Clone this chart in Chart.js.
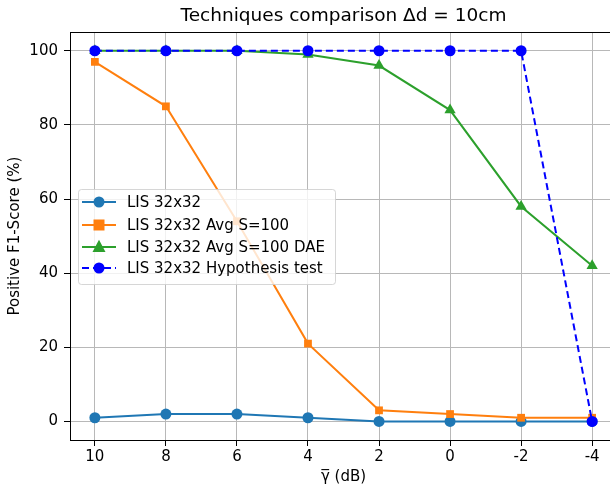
<!DOCTYPE html>
<html><head><meta charset="utf-8">
<script src="https://cdn.jsdelivr.net/npm/chart.js@4/dist/chart.umd.min.js"></script>
<style>html,body{margin:0;padding:0;overflow:hidden;background:#fff;width:610px;height:489px}
#wrap{position:absolute;left:0;top:0;width:640px;height:489px}</style>
</head><body><div id="wrap"><canvas id="c" width="640" height="489"></canvas></div>
<script>
const gammaDb = [10, 8, 6, 4, 2, 0, -2, -4];
const lis = [1, 2, 2, 1, 0, 0, 0, 0];
const lisAvg = [97, 85, 54, 21, 3, 2, 1, 1];
const lisAvgDae = [100, 100, 100, 99, 96, 84, 58, 42];
const lisHyp = [100, 100, 100, 100, 100, 100, 100, 0];
const xTicks = [10, 8, 6, 4, 2, 0, -2, -4];
const yTicks = [0, 20, 40, 60, 80, 100];
const seriesNames = ['LIS 32x32', 'LIS 32x32 Avg S=100', 'LIS 32x32 Avg S=100 DAE', 'LIS 32x32 Hypothesis test'];

const pts = arr => gammaDb.map((x, i) => ({x: x, y: arr[i]}));
const FONT = 'DejaVu Sans';

const frame = {
  id: 'frame',
  afterDatasetsDraw(chart) {
    const a = chart.chartArea, ctx = chart.ctx;
    ctx.save();
    ctx.strokeStyle = '#000'; ctx.lineWidth = 1;
    ctx.strokeRect(Math.round(a.left) + 0.5, Math.round(a.top) + 0.5, Math.round(a.right - a.left), Math.round(a.bottom - a.top));
    ctx.restore();
  },
  afterDraw(chart) {
    // matplotlib-style legend
    const ctx = chart.ctx;
    const x0 = 78, y0 = 189, w = 257, h = 95;
    ctx.save();
    ctx.globalAlpha = 0.8;
    ctx.fillStyle = '#fff';
    ctx.strokeStyle = '#cccccc';
    ctx.lineWidth = 1;
    ctx.beginPath();
    if (ctx.roundRect) ctx.roundRect(x0 + 0.5, y0 + 0.5, w, h, 3); else ctx.rect(x0 + 0.5, y0 + 0.5, w, h);
    ctx.fill(); ctx.stroke();
    ctx.globalAlpha = 1;
    const rowY = [202, 225, 247, 268];
    chart.data.datasets.forEach((ds, i) => {
      const y = rowY[i];
      ctx.strokeStyle = ds.borderColor;
      ctx.lineWidth = ds.borderWidth;
      ctx.setLineDash(ds.borderDash || []);
      ctx.beginPath(); ctx.moveTo(82, y); ctx.lineTo(116, y); ctx.stroke();
      ctx.setLineDash([]);
      ctx.fillStyle = ds.backgroundColor;
      ctx.beginPath();
      const r = ds.pointRadius;
      if (ds.pointStyle === 'circle') { ctx.arc(99, y, r, 0, Math.PI * 2); }
      else if (ds.pointStyle === 'rect') { ctx.rect(99 - r, y - r, 2 * r, 2 * r); }
      else { ctx.moveTo(99, y - r * 1.1); ctx.lineTo(99 + r, y + r * 0.75); ctx.lineTo(99 - r, y + r * 0.75); ctx.closePath(); }
      ctx.fill();
      ctx.fillStyle = '#000';
      ctx.font = '15px "' + FONT + '"';
      ctx.textBaseline = 'middle';
      ctx.fillText(ds.label, 127, y + 1);
    });
    ctx.restore();
  }
};

const mk = (label, data, color, style, r, dash, order) => ({
  label, data: pts(data), borderColor: color, backgroundColor: color,
  pointBackgroundColor: color, pointBorderColor: color, pointBorderWidth: 0,
  pointStyle: style, pointRadius: r, pointHoverRadius: r, borderWidth: 2,
  borderDash: dash, showLine: true, order, clip: false
});

new Chart(document.getElementById('c'), {
  type: 'scatter',
  data: {
    datasets: [
      mk(seriesNames[0], lis, '#1f77b4', 'circle', 5.5, [], 3),
      mk(seriesNames[1], lisAvg, '#ff7f0e', 'rect', 5.5, [], 2),
      mk(seriesNames[2], lisAvgDae, '#2ca02c', 'triangle', 6.5, [], 1),
      mk(seriesNames[3], lisHyp, '#0000ff', 'circle', 5.5, [7, 4], 0)
    ]
  },
  options: {
    responsive: false,
    animation: false,
    devicePixelRatio: 1,
    layout: {padding: {left: 6, right: 23, top: 0, bottom: 3}},
    plugins: {
      legend: {display: false},
      tooltip: {enabled: false},
      title: {
        display: true, text: 'Techniques comparison Δd = 10cm', color: '#000',
        font: {family: FONT, size: 18.5, weight: 'normal'}, padding: {top: 5, bottom: 5}, fullSize: false
      }
    },
    scales: {
      x: {
        type: 'linear', reverse: true, min: -4.7, max: 10.7,
        afterBuildTicks: s => { s.ticks = xTicks.map(v => ({value: v})); },
        afterFit: s => { s.height = 46; },
        ticks: {color: '#000', font: {family: FONT, size: 15}, padding: 2, maxRotation: 0,
          callback: v => String(v)},
        grid: {color: '#b8b8b8', lineWidth: 1, tickLength: 6, tickColor: '#000', drawTicks: true},
        border: {color: '#000', width: 1},
        title: {display: true, text: 'γ\u0305 (dB)', color: '#000', font: {family: FONT, size: 15}, padding: {top: 2, bottom: 0}}
      },
      y: {
        type: 'linear', min: -5, max: 105,
        afterBuildTicks: s => { s.ticks = yTicks.map(v => ({value: v})); },
        afterFit: s => { s.width = 64; },
        ticks: {color: '#000', font: {family: FONT, size: 15}, padding: 6, callback: v => String(v)},
        grid: {color: '#b8b8b8', lineWidth: 1, tickLength: 6, tickColor: '#000'},
        border: {color: '#000', width: 1},
        title: {display: true, text: 'Positive F1-Score (%)', color: '#000', font: {family: FONT, size: 15}, padding: {top: 0, bottom: 6}}
      }
    }
  },
  plugins: [frame]
});
</script></body></html>
